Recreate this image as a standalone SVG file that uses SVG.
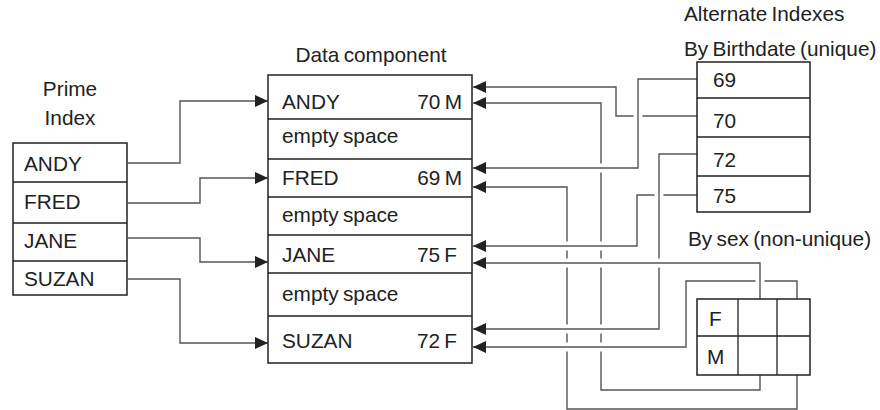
<svg xmlns="http://www.w3.org/2000/svg" width="880" height="410" viewBox="0 0 880 410">
<defs>
<marker id="ah" markerUnits="userSpaceOnUse" viewBox="0 0 13 12" refX="13" refY="6" markerWidth="13" markerHeight="12" orient="auto">
<path d="M0,0 L13,6 L0,12 Z" fill="#222"/>
</marker>
</defs>
<style>
text{font-family:"Liberation Sans",Arial,sans-serif;font-size:20.8px;word-spacing:-1.5px;fill:#222}
.mid{text-anchor:middle}
.end{text-anchor:end}
.box{fill:#fff;stroke:#222;stroke-width:1.5}
.sep{stroke:#222;stroke-width:1.3;fill:none}
.ln{fill:none;stroke:#555;stroke-width:1.4}
.arr{marker-end:url(#ah)}
.halo{fill:none;stroke:#fff;stroke-width:9}
</style>
<rect width="880" height="410" fill="#fff"/>

<g id="connectors">
<!-- prime index to data -->
<path class="ln arr" d="M128,163 H180 V101 H268"/>
<path class="ln arr" d="M128,203 H200 V178 H268"/>
<path class="ln arr" d="M128,238 H200 V262 H268"/>
<path class="ln arr" d="M128,279 H180 V343 H268"/>
<!-- M col2 to ANDY -->
<path class="ln arr" d="M760,375 V390 H601 V103 H473"/>
<!-- M col3 to FRED -->
<path class="ln arr" d="M797,375 V409 H567 V187 H473"/>
<!-- 70 to ANDY -->
<path class="halo" d="M697,116 H616 V87 H486"/>
<path class="ln arr" d="M697,116 H616 V87 H473"/>
<!-- 69 to FRED -->
<path class="halo" d="M697,79 H638 V168 H486"/>
<path class="ln arr" d="M697,79 H638 V168 H473"/>
<!-- 75 to JANE -->
<path class="halo" d="M697,195 H637 V246 H486"/>
<path class="ln arr" d="M697,195 H637 V246 H473"/>
<!-- 72 to SUZAN -->
<path class="halo" d="M697,154 H659 V329 H486"/>
<path class="ln arr" d="M697,154 H659 V329 H473"/>
<!-- F col3 to SUZAN -->
<path class="halo" d="M797,299 V281 H686 V347 H486"/>
<path class="ln arr" d="M797,299 V281 H686 V347 H473"/>
<!-- F col2 to JANE -->
<path class="halo" d="M760,299 V263 H486"/>
<path class="ln arr" d="M760,299 V263 H473"/>
</g>

<g id="prime-index">
<text class="mid" x="70" y="96">Prime</text>
<text class="mid" x="70" y="125">Index</text>
<rect class="box" x="13" y="143" width="114" height="152"/>
<path class="sep" d="M13,182 H127 M13,223 H127 M13,261 H127"/>
<text x="24" y="171">ANDY</text>
<text x="24" y="209">FRED</text>
<text x="24" y="248">JANE</text>
<text x="24" y="286">SUZAN</text>
</g>

<g id="data-component">
<text class="mid" x="371" y="62">Data component</text>
<rect class="box" x="268" y="75" width="204" height="288"/>
<path class="sep" d="M268,119 H472 M268,159 H472 M268,197 H472 M268,235 H472 M268,273 H472 M268,316 H472"/>
<text x="282" y="109">ANDY</text>
<text class="end" x="462" y="109">70 M</text>
<text x="282" y="143">empty space</text>
<text x="282" y="185">FRED</text>
<text class="end" x="462" y="185">69 M</text>
<text x="282" y="222">empty space</text>
<text x="282" y="262">JANE</text>
<text class="end" x="457" y="262">75 F</text>
<text x="282" y="301">empty space</text>
<text x="282" y="348">SUZAN</text>
<text class="end" x="457" y="348">72 F</text>
</g>

<g id="birthdate-index">
<text x="684" y="21">Alternate Indexes</text>
<text x="684" y="56">By Birthdate (unique)</text>
<rect class="box" x="697" y="62" width="113" height="150"/>
<path class="sep" d="M697,98 H810 M697,137 H810 M697,176 H810"/>
<text x="713" y="87">69</text>
<text x="713" y="128">70</text>
<text x="713" y="167">72</text>
<text x="713" y="203">75</text>
</g>

<g id="sex-index">
<text x="688" y="246">By sex (non-unique)</text>
<rect class="box" x="697" y="299" width="113" height="76"/>
<path class="sep" d="M697,336 H810 M738,299 V375 M777,299 V375"/>
<text x="709" y="326">F</text>
<text x="707" y="364">M</text>
</g>
</svg>
